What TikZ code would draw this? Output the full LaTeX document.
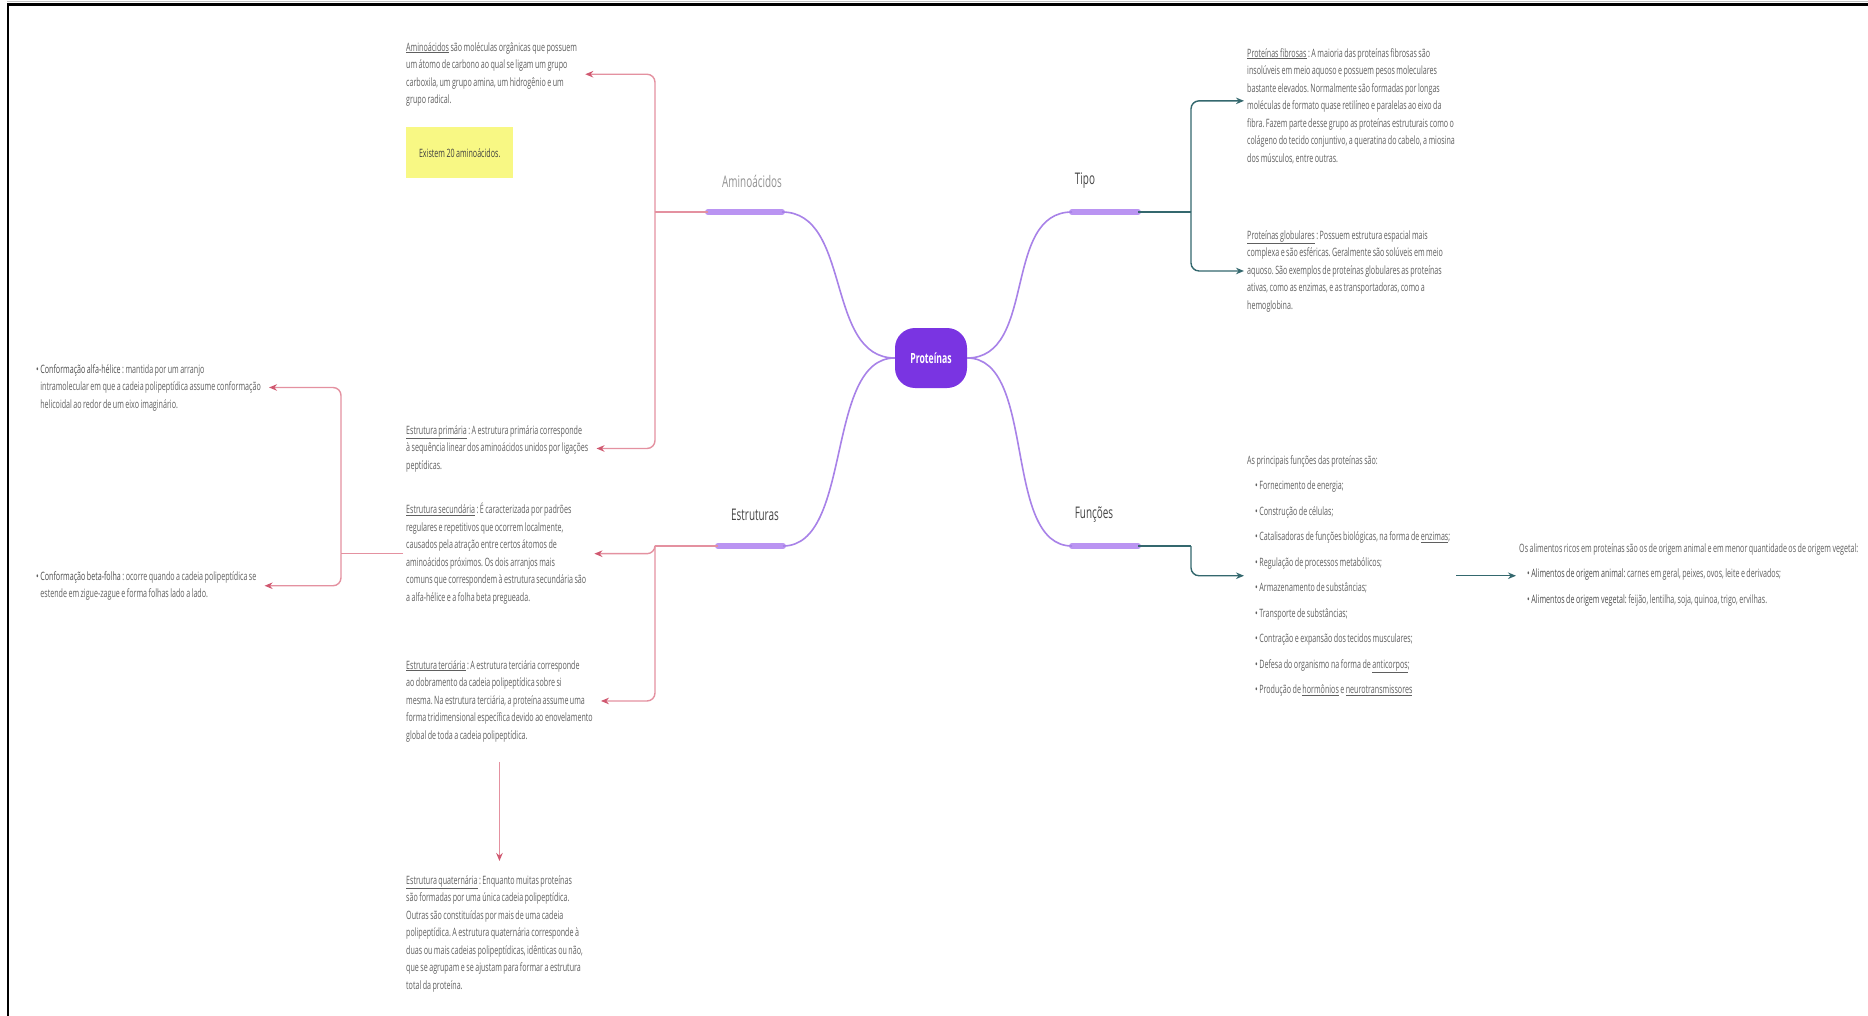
\documentclass[tikz,border=0pt]{standalone}
\usepackage{fontspec}
\setmainfont{Open Sans}
\newfontfamily\condfont[FakeStretch=0.62,WordSpace=0.8]{Open Sans}
\usetikzlibrary{arrows.meta}

\definecolor{bodygray}{RGB}{95,95,95}
\definecolor{labelgray}{RGB}{70,70,70}
\definecolor{centerpurple}{RGB}{122,52,226}
\definecolor{curvepurple}{RGB}{168,130,232}
\definecolor{barpurple}{RGB}{186,148,242}
\definecolor{pinkline}{RGB}{228,145,160}
\definecolor{pinkdark}{RGB}{208,88,112}
\definecolor{tealline}{RGB}{52,104,110}
\definecolor{notefill}{RGB}{248,248,132}

\tikzset{
  txt/.style={font={\fontsize{11.5}{17.5}\condfont}, text=bodygray, align=left,
              inner sep=0pt, anchor=north west},
  listtxt/.style={txt, font={\fontsize{11.5}{25.5}\condfont}},
  branch/.style={font={\fontsize{16}{18}\condfont}, text=labelgray, inner sep=0pt},
  barline/.style={line width=6pt, barpurple, line cap=round},
  curveline/.style={line width=1.6pt, curvepurple},
  pinkl/.style={line width=1.4pt, pinkline, rounded corners=8pt},
  pinkarrow/.style={pinkl, -{Stealth[length=8pt,width=6.5pt,color=pinkdark]}, shorten >=8pt},
  teall/.style={line width=1.4pt, tealline, rounded corners=8pt},
  tealarrow/.style={teall, -{Stealth[length=8pt,width=6.5pt]}, shorten >=3pt},
}

\begin{document}
\frenchspacing
\begin{tikzpicture}[x=1pt,y=-1pt]
\useasboundingbox[fill=white] (0,0) rectangle (1868,1016);

% frame
\draw[gray!50, line width=0.8pt] (7,1.5) -- (1868,1.5);
\draw[black, line width=2.6pt] (7,4.5) -- (1868,4.5);
\draw[black, line width=2.6pt] (8,3.5) -- (8,1016);

% central topic
\node[fill=centerpurple, rounded corners=20pt, minimum width=72pt, minimum height=60pt,
      text=white, font={\fontsize{14}{16}\condfont\bfseries}] (prot) at (931,358) {Proteínas};

% branch bars
\coordinate (aL) at (708,212); \coordinate (aR) at (782,212);
\coordinate (eL) at (718,546); \coordinate (eR) at (783,546);
\coordinate (tL) at (1072,212); \coordinate (tR) at (1138,212);
\coordinate (fL) at (1072,546); \coordinate (fR) at (1138,546);
\draw[barline] (aL) -- (aR);
\draw[barline] (eL) -- (eR);
\draw[barline] (tL) -- (tR);
\draw[barline] (fL) -- (fR);

% branch labels
\node[branch, text=gray!85] (amino) at (752,181) {Aminoácidos};
\node[branch] (estr) at (755,515) {Estruturas};
\node[branch] (tipo) at (1085,181) {Tipo};
\node[branch] (func) at (1094,515) {Funções};

% curves from the central topic
\draw[curveline] (prot.west) .. controls +(-70,0) and +(70,0) .. (aR);
\draw[curveline] (prot.west) .. controls +(-70,0) and +(70,0) .. (eR);
\draw[curveline] (prot.east) .. controls +(70,0) and +(-70,0) .. (tL);
\draw[curveline] (prot.east) .. controls +(70,0) and +(-70,0) .. (fL);

% ---------- Aminoácidos ----------
\node[txt] (amino1) at (406,42) {\underline{Aminoácidos} são moléculas orgânicas que possuem\\
um átomo de carbono ao qual se ligam um grupo\\
carboxila, um grupo amina, um hidrogênio e um\\
grupo radical.};

\node[fill=notefill, anchor=north west, minimum width=107pt, minimum height=51pt,
      inner sep=0pt, text=black!75,
      font={\fontsize{11.5}{14}\condfont}] (note) at (406,127) {Existem 20 aminoácidos.};

\node[txt] (prim) at (406,425) {\underline{Estrutura primária} : A estrutura primária corresponde\\
à sequência linear dos aminoácidos unidos por ligações\\
peptídicas.};

\coordinate (aJ) at (655,212);
\draw[pinkl] (aL) -- (aJ);
\draw[pinkarrow] (aJ) |- (amino1.east);
\draw[pinkarrow] (aJ) |- (prim.east);

% ---------- Estruturas ----------
\node[txt] (sec) at (406,503) {\underline{Estrutura secundária} : É caracterizada por padrões\\
regulares e repetitivos que ocorrem localmente,\\
causados pela atração entre certos átomos de\\
aminoácidos próximos. Os dois arranjos mais\\
comuns que correspondem à estrutura secundária são\\
a alfa-hélice e a folha beta pregueada.};

\node[txt] (tert) at (406,660) {\underline{Estrutura terciária} : A estrutura terciária corresponde\\
ao dobramento da cadeia polipeptídica sobre si\\
mesma. Na estrutura terciária, a proteína assume uma\\
forma tridimensional específica devido ao enovelamento\\
global de toda a cadeia polipeptídica.};

\node[txt] (quat) at (406,875) {\underline{Estrutura quaternária} : Enquanto muitas proteínas\\
são formadas por uma única cadeia polipeptídica.\\
Outras são constituídas por mais de uma cadeia\\
polipeptídica. A estrutura quaternária corresponde à\\
duas ou mais cadeias polipeptídicas, idênticas ou não,\\
que se agrupam e se ajustam para formar a estrutura\\
total da proteína.};

\coordinate (eJ) at (655,546);
\draw[pinkl] (eL) -- (eJ);
\draw[pinkarrow] (eJ) |- (sec.east);
\draw[pinkarrow] (eJ) |- (tert.east);
\draw[pinkarrow, shorten <=20pt, shorten >=14pt] (tert.south) -- (tert.south |- quat.north);

% secondary structure conformations
\node[txt] (alfa) at (36,364) {• {\color{black!70}Conformação alfa-hélice} : mantida por um arranjo\\
\phantom{• }intramolecular em que a cadeia polipeptídica assume conformação\\
\phantom{• }helicoidal ao redor de um eixo imaginário.};

\node[txt] (beta) at (36,571) {• {\color{black!70}Conformação beta-folha} : ocorre quando a cadeia polipeptídica se\\
\phantom{• }estende em zigue-zague e forma folhas lado a lado.};

\draw[pinkl, shorten <=3pt] (sec.west) -- ++(-65,0) coordinate (sJ);
\draw[pinkarrow] (sJ) |- (alfa.east);
\draw[pinkarrow] (sJ) |- (beta.east);

% ---------- Tipo ----------
\node[txt] (fib) at (1247,48) {\underline{Proteínas fibrosas} : A maioria das proteínas fibrosas são\\
insolúveis em meio aquoso e possuem pesos moleculares\\
bastante elevados. Normalmente são formadas por longas\\
moléculas de formato quase retilíneo e paralelas ao eixo da\\
fibra. Fazem parte desse grupo as proteínas estruturais como o\\
colágeno do tecido conjuntivo, a queratina do cabelo, a miosina\\
dos músculos, entre outras.};

\node[txt] (glob) at (1247,230) {\underline{Proteínas globulares} : Possuem estrutura espacial mais\\
complexa e são esféricas. Geralmente são solúveis em meio\\
aquoso. São exemplos de proteínas globulares as proteínas\\
ativas, como as enzimas, e as transportadoras, como a\\
hemoglobina.};

\coordinate (tJ) at (1191,212);
\draw[teall] (tR) -- (tJ);
\draw[tealarrow] (tJ) |- ([yshift=5pt]fib.west);
\draw[tealarrow] (tJ) |- (glob.west);

% ---------- Funções ----------
\node[listtxt] (fun) at (1247,455) {As principais funções das proteínas são:\\
\hspace{8pt}• Fornecimento de energia;\\
\hspace{8pt}• Construção de células;\\
\hspace{8pt}• Catalisadoras de funções biológicas, na forma de \underline{enzimas};\\
\hspace{8pt}• Regulação de processos metabólicos;\\
\hspace{8pt}• Armazenamento de substâncias;\\
\hspace{8pt}• Transporte de substâncias;\\
\hspace{8pt}• Contração e expansão dos tecidos musculares;\\
\hspace{8pt}• Defesa do organismo na forma de \underline{anticorpos};\\
\hspace{8pt}• Produção de \underline{hormônios} e \underline{neurotransmissores}};

\coordinate (fJ) at (1191,546);
\draw[teall] (fR) -- (fJ);
\draw[tealarrow] (fJ) |- (fun.west);

\node[listtxt] (alim) at (1519,543) {Os alimentos ricos em proteínas são os de origem animal e em menor quantidade os de origem vegetal:\\
\hspace{8pt}• {\color{black!70}Alimentos de origem animal:} carnes em geral, peixes, ovos, leite e derivados;\\
\hspace{8pt}• {\color{black!70}Alimentos de origem vegetal:} feijão, lentilha, soja, quinoa, trigo, ervilhas.};

\draw[tealarrow, shorten <=6pt] (fun.east) -- (fun.east -| alim.west);

\end{tikzpicture}
\end{document}
